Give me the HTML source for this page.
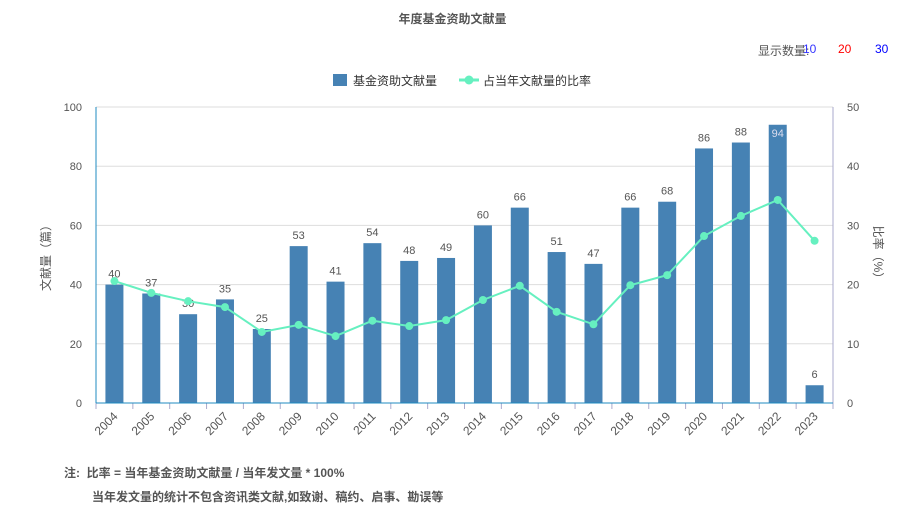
<!DOCTYPE html>
<html><head><meta charset="utf-8">
<style>
body{margin:0;background:#fff;font-family:"Liberation Sans","Noto Sans CJK SC",sans-serif;}
#wrap{position:relative;width:905px;height:512px;overflow:hidden}
.t{position:absolute;white-space:nowrap}
</style></head>
<body>
<div id="wrap">
<div class="t" style="left:0;width:905px;top:10px;text-align:center;font-size:12px;font-weight:bold;color:#555">年度基金资助文献量</div>
<div class="t" style="left:758px;top:42px;font-size:12px;color:#555">显示数量:</div>
<div class="t" style="left:803px;top:42px;font-size:12px;color:#33f;cursor:pointer">10</div>
<div class="t" style="left:838px;top:42px;font-size:12px;color:#f00;cursor:pointer">20</div>
<div class="t" style="left:875px;top:42px;font-size:12px;color:#00f;cursor:pointer">30</div>
<svg id="svg" width="905" height="512" style="position:absolute;left:0;top:0"></svg>
<div class="t" style="left:64px;top:464px;font-size:12px;font-weight:bold;color:#555">注:&nbsp;&nbsp;比率 = 当年基金资助文献量 / 当年发文量 * 100%</div>
<div class="t" style="left:92px;top:488px;font-size:12px;font-weight:bold;color:#555">当年发文量的统计不包含资讯类文献,如致谢、稿约、启事、勘误等</div>
</div>
<script>
const categories=["2004","2005","2006","2007","2008","2009","2010","2011","2012","2013","2014","2015","2016","2017","2018","2019","2020","2021","2022","2023"];
const counts=[40,37,30,35,25,53,41,54,48,49,60,66,51,47,66,68,86,88,94,6];
const ratios=[20.6,18.6,17.2,16.2,12.0,13.2,11.3,13.9,13.0,14.0,17.4,19.8,15.4,13.3,19.9,21.6,28.2,31.6,34.3,27.4];
const leftTicks=[0,20,40,60,80,100];
const rightTicks=[0,10,20,30,40,50];
const NS="http://www.w3.org/2000/svg";
const svg=document.getElementById('svg');
const X0=96,X1=833,Y0=403,Y1=107;
const band=(X1-X0)/categories.length;
const yL=v=>Y0-(v/100)*(Y0-Y1);
const yR=v=>Y0-(v/50)*(Y0-Y1);
const xc=i=>X0+band*(i+0.5);
function mk(tag,attrs,name,txt){const e=document.createElementNS(NS,tag);for(const k in attrs)e.setAttribute(k,attrs[k]);


if(txt!==undefined)e.textContent=txt;svg.appendChild(e);return e;}
leftTicks.forEach((v,i)=>{
 if(v>0)mk('line',{x1:X0,x2:X1,y1:yL(v),y2:yL(v),stroke:'#ddd'},'grid-line');
 mk('text',{x:X0-14,y:yL(v)+4,'text-anchor':'end','font-size':11,fill:'#555'},'left-tick-label',v);
});
rightTicks.forEach(v=>{mk('text',{x:X1+14,y:yR(v)+4,'font-size':11,fill:'#555'},'right-tick-label',v);});
mk('line',{x1:X1,x2:X1,y1:Y1,y2:Y0,stroke:'#aac'},'right-axis');
categories.forEach((c,i)=>{
 const bw=18,x=xc(i)-bw/2,y=yL(counts[i]);
 mk('rect',{x:x,y:y,width:bw,height:Y0-y,fill:'#4682b4'},'bar-'+c);
 const inside=counts[i]>=92;
 mk('text',{x:xc(i),y:inside?y+12:y-7,'text-anchor':'middle','font-size':11,fill:inside?'#dde':'#555'},'bar-value-label',counts[i]);
 mk('line',{x1:X0+band*i,x2:X0+band*i,y1:Y0,y2:Y0+6,stroke:'#aac'},'x-tick');
 const tx=xc(i)+4,ty=Y0+14;
 mk('text',{x:tx,y:ty,'text-anchor':'end','font-size':12,fill:'#555',transform:`rotate(-45 ${tx} ${ty})`},'x-tick-label',c);
});
mk('line',{x1:X1,x2:X1,y1:Y0,y2:Y0+6,stroke:'#aac'},'x-tick');
mk('line',{x1:X0,x2:X0,y1:Y1,y2:Y0,stroke:'#1f8bc0'},'left-axis');
mk('line',{x1:X0,x2:X1,y1:Y0,y2:Y0,stroke:'#1f8bc0'},'x-axis');
mk('polyline',{points:ratios.map((v,i)=>xc(i)+','+yR(v)).join(' '),fill:'none',stroke:'#66f0c0','stroke-width':2},'ratio-line');
ratios.forEach((v,i)=>mk('circle',{cx:xc(i),cy:yR(v),r:4,fill:'#66f0c0'},'ratio-point-'+categories[i]));
mk('text',{x:50,y:255,'text-anchor':'middle','font-size':12,fill:'#555',transform:'rotate(-90 50 255)'},'left-axis-title','文献量（篇）');
mk('text',{x:874,y:255,'text-anchor':'middle','font-size':12,fill:'#555',transform:'rotate(90 874 255)'},'right-axis-title','比率（%）');
mk('rect',{x:333,y:74,width:14,height:12,fill:'#4682b4'},'legend-bar-swatch');
mk('text',{x:353,y:85,'font-size':12,fill:'#333'},'legend-bar-label','基金资助文献量');
mk('line',{x1:459,x2:479,y1:80,y2:80,stroke:'#66f0c0','stroke-width':3},'legend-line-swatch');
mk('circle',{cx:469,cy:80,r:4.5,fill:'#66f0c0'},'legend-line-marker');
mk('text',{x:483,y:85,'font-size':12,fill:'#333'},'legend-line-label','占当年文献量的比率');
</script>
</body></html>
